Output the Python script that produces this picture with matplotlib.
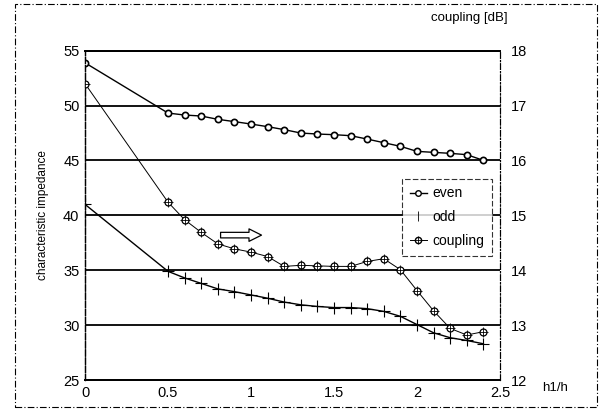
import matplotlib
matplotlib.use("Agg")
import matplotlib.pyplot as plt
from matplotlib.legend_handler import HandlerTuple
from matplotlib.lines import Line2D
from matplotlib.patches import Rectangle

plt.rcParams['font.family'] = ['Liberation Sans', 'DejaVu Sans']

# data
h_ratio = [0, 0.5, 0.6, 0.7, 0.8, 0.9, 1.0, 1.1, 1.2, 1.3, 1.4,
           1.5, 1.6, 1.7, 1.8, 1.9, 2.0, 2.1, 2.2, 2.3, 2.4]
even = [53.9, 49.32, 49.14, 49.05, 48.75, 48.54, 48.32, 48.08, 47.81, 47.50, 47.41,
        47.35, 47.26, 46.95, 46.62, 46.29, 45.83, 45.74, 45.65, 45.53, 45.01]
odd = [41.0, 34.9, 34.3, 33.8, 33.3, 33.05, 32.75, 32.45, 32.1, 31.85, 31.7,
       31.6, 31.6, 31.5, 31.25, 30.8, 30.05, 29.3, 28.85, 28.6, 28.3]
coupling_db = [17.4, 15.24, 14.92, 14.69, 14.48, 14.39, 14.33, 14.25, 14.07, 14.09, 14.08,
               14.07, 14.07, 14.16, 14.21, 14.01, 13.63, 13.26, 12.94, 12.82, 12.88]

left_ticks = [25, 30, 35, 40, 45, 50, 55]
right_ticks = [12, 13, 14, 15, 16, 17, 18]
x_ticks = [0, 0.5, 1, 1.5, 2, 2.5]
x_ticklabels = ['0', '0.5', '1', '1.5', '2', '2.5']

fig = plt.figure(figsize=(6.0, 4.09), dpi=100)
ax = fig.add_axes([0.1417, 0.0709, 0.6916, 0.8051])
ax2 = ax.twinx()

# outer dashed frame
fig.patches.append(Rectangle((0.025, 0.005), 0.97, 0.985, transform=fig.transFigure,
                             fill=False, ec='black', lw=0.8, ls=(0, (6, 2, 1, 2))))

ax.set_xlim(0, 2.5)
ax.set_ylim(25, 55)
ax2.set_ylim(12, 18)

for v in left_ticks[1:]:
    ax.axhline(v, color='black', lw=1.3, zorder=1)

ax.plot(h_ratio, even, color='black', lw=1.0, marker='o', ms=4.5, mfc='white',
        mec='black', mew=1.2, zorder=3)
ax.plot(h_ratio, odd, color='black', lw=1.0, marker='+', ms=9, mew=0.8, zorder=3)
ax2.plot(h_ratio, coupling_db, color='black', lw=0.7, ls='-', marker='o', ms=5,
         mfc='white', mec='black', mew=0.9, zorder=3)
ax2.plot(h_ratio, coupling_db, ls='none', marker='+', ms=7, mec='black', mew=0.6, zorder=4)

ax.set_xticks(x_ticks)
ax.set_xticklabels(x_ticklabels)
ax.set_yticks(left_ticks)
ax2.set_yticks(right_ticks)
ax.tick_params(axis='both', length=0, labelsize=10.5, pad=4)
ax2.tick_params(axis='y', length=0, labelsize=10.5, pad=8)

for a in (ax, ax2):
    a.spines['top'].set_linewidth(1.3)
    a.spines['bottom'].set_linewidth(1.3)
    a.spines['left'].set_linewidth(0.9)
    a.spines['left'].set_linestyle((0, (5, 1.5)))
    a.spines['right'].set_linewidth(0.8)
    a.spines['right'].set_linestyle((0, (5, 2, 1, 2)))

ax.set_ylabel('characteristic impedance', fontsize=8.5, labelpad=10)
fig.text(0.783, 0.955, 'coupling [dB]', fontsize=9.5, ha='center', va='center')
fig.text(0.925, 0.052, 'h1/h', fontsize=9.5, ha='center', va='center')

# hollow arrow pointing to the right axis
ax.annotate('', xy=(1.08, 38.2), xytext=(0.8, 38.2),
            arrowprops=dict(arrowstyle='simple,head_width=0.9,head_length=0.9,tail_width=0.4',
                            fc='white', ec='black', lw=0.9), zorder=5)

h_even = Line2D([], [], color='black', lw=1.0, marker='o', ms=4, mfc='white', mec='black')
h_odd = Line2D([], [], color='black', lw=0, marker='|', ms=7, mew=0.6)
h_c1 = Line2D([], [], color='black', lw=0.7, marker='o', ms=4.5, mfc='white', mec='black')
h_c2 = Line2D([], [], ls='none', marker='+', ms=6, mec='black', mew=0.6)
leg = ax2.legend([h_even, h_odd, (h_c1, h_c2)], ['even', 'odd', 'coupling'],
                 handler_map={tuple: HandlerTuple(ndivide=1, pad=0)},
                 loc='upper left', bbox_to_anchor=(0.765, 0.611), fontsize=10,
                 frameon=True, fancybox=False, edgecolor='black', handlelength=1.2,
                 handletextpad=0.4, borderpad=0.55, labelspacing=0.7, borderaxespad=0)
leg.get_frame().set_linewidth(0.8)
leg.get_frame().set_linestyle((0, (5, 2)))

fig.savefig('out.png', dpi=100)
